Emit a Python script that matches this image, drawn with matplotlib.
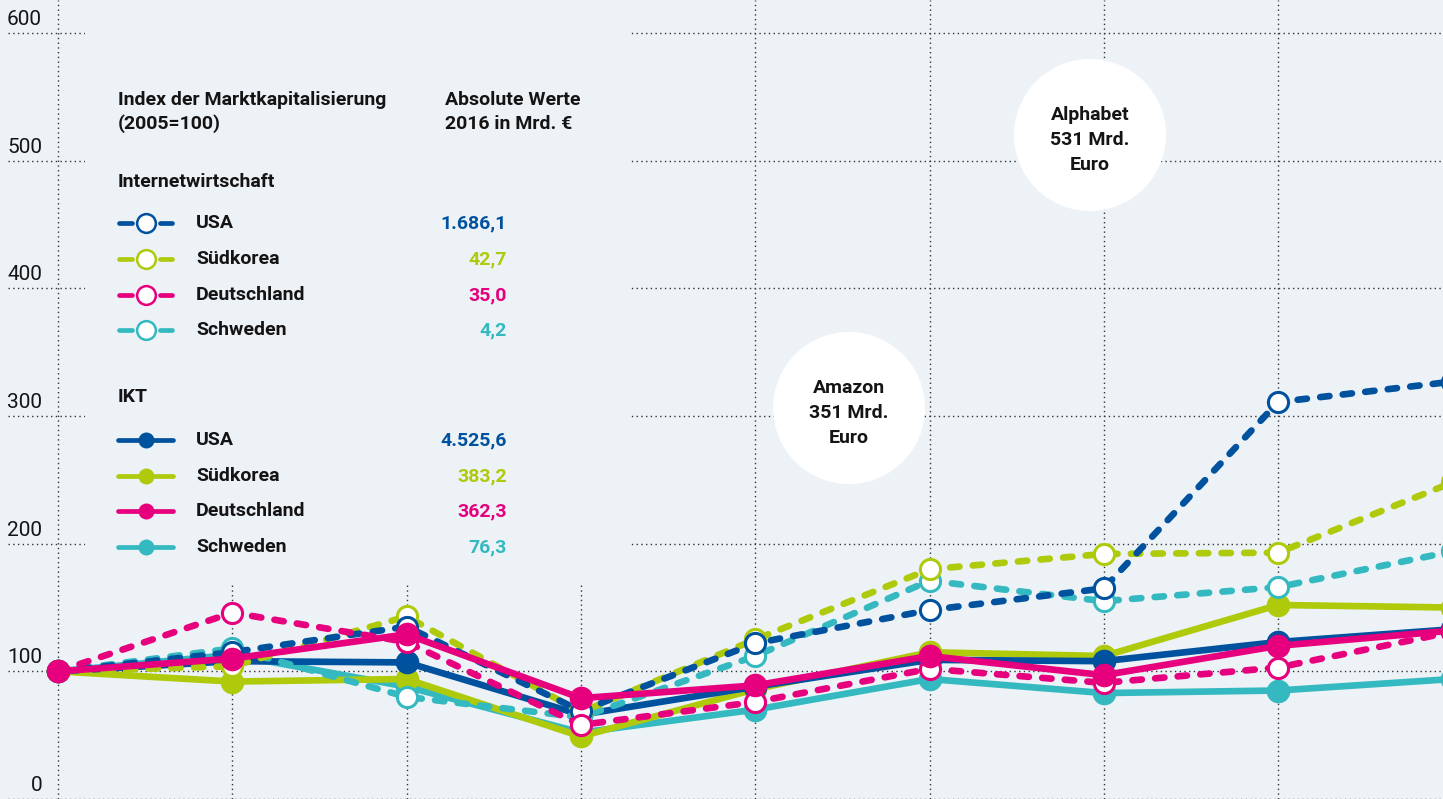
import matplotlib
matplotlib.use("Agg")
import matplotlib.pyplot as plt
from matplotlib.patches import Rectangle, Ellipse

W, H = 1443, 799
BG = "#edf2f7"
INK = "#141414"
C_USA = "#00519e"
C_KOR = "#afca0b"
C_DEU = "#e6007e"
C_SWE = "#35b9c0"

plt.rcParams["font.family"] = ["Roboto", "DejaVu Sans"]

years = [2005, 2006, 2007, 2008, 2009, 2010, 2011, 2012, 2013]

# Internetwirtschaft, Index 2005=100
inet_usa = [100, 115, 135, 69, 122, 148, 165, 311, 327]
inet_kor = [100, 104, 143, 68, 125, 180, 192, 193, 248]
inet_deu = [100, 146, 123, 58, 76, 102, 91, 103, 131]
inet_swe = [100, 118, 80, 64, 112, 171, 155, 166, 194]

# IKT, Index 2005=100
ikt_usa = [100, 108, 107, 66, 88, 109, 108, 123, 133]
ikt_kor = [100, 92, 94, 49, 86, 115, 112, 152, 150]
ikt_deu = [100, 110, 129, 79, 89, 112, 97, 120, 132]
ikt_swe = [100, 113, 88, 52, 70, 94, 83, 85, 94]

countries = ["USA", "Südkorea", "Deutschland", "Schweden"]
colors = [C_USA, C_KOR, C_DEU, C_SWE]
inet_abs = ["1.686,1", "42,7", "35,0", "4,2"]
ikt_abs = ["4.525,6", "383,2", "362,3", "76,3"]

yticks = [0, 100, 200, 300, 400, 500, 600]


def fx(px):
    return px / W


def fy(py):
    return 1 - py / H


fig = plt.figure(figsize=(W / 100, H / 100), dpi=100, facecolor=BG)
ax = fig.add_axes([0, 0, 1, 1])
ax.set_facecolor(BG)
ax.axis("off")
step = 174.3
x_left = years[0] - 58 / step
x_right = years[0] + (W - 58) / step
ax.set_xlim(x_left, x_right)
ax.set_ylim(0, 626)

# dotted grid
dots = (0, (1, 2.4))
ax.hlines(yticks, years[0] - 50 / step, x_right, colors="#333333",
          linestyles=[dots], lw=1, zorder=1)
ax.vlines(years, 0, 626, colors="#333333", linestyles=[dots], lw=1, zorder=1)
for t in yticks:
    ax.annotate(str(t), (0, t), xycoords=("axes fraction", "data"),
                xytext=(42, 4), textcoords="offset pixels",
                ha="right", va="bottom", fontsize=15, color=INK)

# blank panel behind the legend
ax.add_patch(Rectangle((fx(85), fy(585)), fx(630) - fx(85), 1 - fy(585),
                       transform=ax.transAxes, facecolor=BG, edgecolor="none",
                       zorder=1.5))

# company bubbles
for cx, cy, lines in [(849, 408, ["Amazon", "351 Mrd.", "Euro"]),
                      (1090, 135, ["Alphabet", "531 Mrd.", "Euro"])]:
    ax.add_patch(Ellipse((fx(cx), fy(cy)), 2 * 76 / W, 2 * 76 / H,
                         transform=ax.transAxes, facecolor="white",
                         edgecolor="none", zorder=1.6))
    for i, s in enumerate(lines):
        ax.text(fx(cx), fy(cy - 20 + 25 * i), s, transform=ax.transAxes,
                ha="center", va="center", fontsize=14, fontweight="bold",
                color=INK, zorder=2)

# series
lw = 4.8
for vals, c in [(ikt_swe, C_SWE), (ikt_kor, C_KOR), (ikt_usa, C_USA)]:
    ax.plot(years, vals, color=c, lw=lw, solid_capstyle="round",
            marker="o", ms=17, mfc=c, mec=c, mew=0, zorder=3)
for vals, c in [(inet_swe, C_SWE), (inet_kor, C_KOR), (inet_usa, C_USA),
                (inet_deu, C_DEU)]:
    ax.plot(years, vals, color=c, lw=lw, dashes=(1.4, 2.0),
            dash_capstyle="round", marker="o", ms=14.5, mfc="white",
            mec=c, mew=2.2, zorder=4)
ax.plot(years, ikt_deu, color=C_DEU, lw=lw, marker="o", ms=17, mfc=C_DEU,
        mec=C_DEU, mew=0, zorder=5)

# legend
def txt(px, py, s, **kw):
    kw.setdefault("color", INK)
    kw.setdefault("fontsize", 14)
    kw.setdefault("fontweight", "bold")
    ax.text(fx(px), fy(py), s, transform=ax.transAxes, va="center", **kw)


txt(118, 100, "Index der Marktkapitalisierung")
txt(118, 124, "(2005=100)")
txt(445, 100, "Absolute Werte")
txt(445, 124, "2016 in Mrd. €")
txt(118, 182, "Internetwirtschaft")
txt(118, 397, "IKT")

for i, (name, c) in enumerate(zip(countries, colors)):
    y = fy([223, 259, 295, 330][i])
    for seg in [(119, 132), (160, 172)]:
        ax.plot([fx(seg[0]), fx(seg[1])], [y, y], color=c, lw=3.4,
                solid_capstyle="round", transform=ax.transAxes, clip_on=False)
    ax.plot([fx(146)], [y], marker="o", ms=13.5, mfc="white", mec=c, mew=1.8,
            transform=ax.transAxes, clip_on=False)
    txt(196, [223, 259, 295, 330][i], name)
    txt(507, [223, 259, 295, 330][i], inet_abs[i], color=c, ha="right")

for i, (name, c) in enumerate(zip(countries, colors)):
    y = fy([440, 476, 511, 547][i])
    ax.plot([fx(118), fx(173)], [y, y], color=c, lw=3.4,
            solid_capstyle="round", transform=ax.transAxes, clip_on=False)
    ax.plot([fx(146)], [y], marker="o", ms=11.5, mfc=c, mec=c, mew=0,
            transform=ax.transAxes, clip_on=False)
    txt(196, [440, 476, 511, 547][i], name)
    txt(507, [440, 476, 511, 547][i], ikt_abs[i], color=c, ha="right")

fig.savefig("out.png", dpi=100, facecolor=BG)
